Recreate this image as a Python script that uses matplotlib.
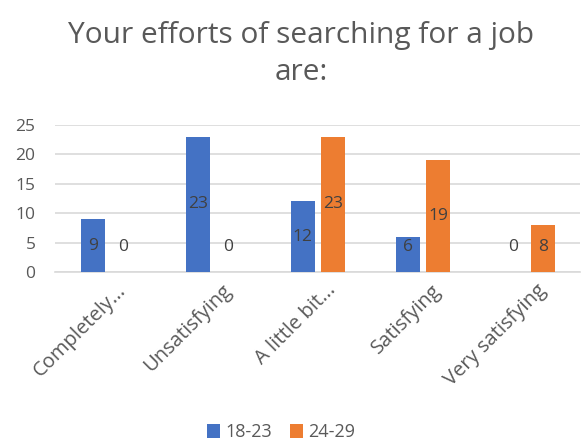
import numpy as np
import matplotlib.pyplot as plt
from matplotlib.transforms import ScaledTranslation

categories = ["Completely...", "Unsatisfying", "A little bit...", "Satisfying", "Very satisfying"]
group_18_23 = [9, 23, 12, 6, 0]
group_24_29 = [0, 0, 23, 19, 8]
series_names = ["18-23", "24-29"]
colors = ["#4472C4", "#ED7D31"]

plt.rcParams['font.family'] = ['Open Sans', 'DejaVu Sans']

fig = plt.figure(figsize=(5.82, 4.43), dpi=100)
ax = fig.add_axes([0.0945, 0.386, 0.9025, 0.332])

x = np.arange(len(categories))
w = 0.23
offs = [-0.14, 0.145]
for vals, off, c, name in zip([group_18_23, group_24_29], offs, colors, series_names):
    bars = ax.bar(x + off, vals, w, color=c, label=name, zorder=3)
    for xi, v in zip(x, vals):
        # labels sit mid-bar, but never lower than the text height
        ax.text(xi + off, max(v / 2, 4.3), str(v), ha='center', va='center',
                fontsize=12.5, color='#404040', zorder=4)

ax.set_xlim(-0.5, len(categories) - 0.5)
ax.set_ylim(0, 25)
ax.set_yticks(range(0, 26, 5))
ax.yaxis.grid(True, color='#D9D9D9', lw=1.2, zorder=0)
ax.set_axisbelow(True)
for s in ['top', 'right', 'left']:
    ax.spines[s].set_visible(False)
ax.spines['bottom'].set_color('#D9D9D9')
ax.spines['bottom'].set_linewidth(1.2)
ax.tick_params(length=0, colors='#595959', labelsize=12.5)
ax.tick_params(axis='y', pad=14)
ax.tick_params(axis='x', labelsize=14.5, pad=6)
ax.set_xticks(x)
ax.set_xticklabels(categories, rotation=45, ha='right', rotation_mode='anchor')
# nudge the slanted labels a little to the right
shift = ScaledTranslation(6 / 72, 0, fig.dpi_scale_trans)
for lbl in ax.get_xticklabels():
    lbl.set_transform(lbl.get_transform() + shift)

fig.text(0.518, 0.878, "Your efforts of searching for a job\nare:", ha='center', va='center',
         fontsize=21.5, color='#595959', linespacing=1.35)

fig.legend(loc='center', bbox_to_anchor=(0.483, 0.025), ncol=2, frameon=False,
           fontsize=13, labelcolor='#595959', handlelength=0.7, handleheight=0.8,
           handletextpad=0.3, columnspacing=1.0)

fig.savefig("out.png", dpi=100)
